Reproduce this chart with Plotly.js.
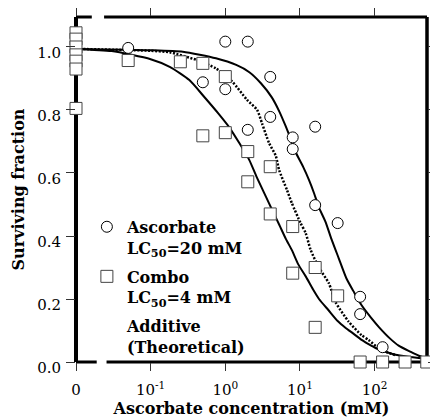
<!DOCTYPE html>
<html>
<head>
<meta charset="utf-8">
<script src="https://cdn.plot.ly/plotly-3.0.1.min.js"></script>
<style>html,body{margin:0;padding:0;background:#fff;}#chart{width:430px;height:418px;}</style>
</head>
<body>
<div id="chart"></div>
<script>
// Concentration 0 is drawn at the broken-axis position of 10^-2
const ZERO_POS = 0.01;

// Ascorbate alone (circles)
const ascConc = [0.05, 0.5, 1, 1, 2, 2, 4, 4, 8, 8, 16, 16, 32, 64, 64, 128];
const ascSurv = [0.997, 0.888, 1.017, 0.866, 1.017, 0.737, 0.905, 0.778, 0.713, 0.676, 0.747, 0.498, 0.441, 0.207, 0.152, 0.047];

// Combo (squares)
const comboConc = [0, 0, 0, 0, 0, 0, 0, 0.05, 0.25, 0.5, 0.5, 1, 1, 2, 2, 4, 4, 8, 8, 16, 16, 32, 64, 128, 256, 500];
const comboSurv = [1.045, 1.025, 1.0, 0.975, 0.955, 0.93, 0.805, 0.957, 0.953, 0.948, 0.718, 0.906, 0.728, 0.668, 0.572, 0.62, 0.47, 0.43, 0.282, 0.3, 0.11, 0.21, 0, 0, 0, 0];

// Fitted curve, ascorbate (LC50 = 20 mM)
const fitAscX = [0, 0.1, 0.27, 0.75, 1.4, 2.1, 3.0, 4.2, 5.3, 6.4, 7.6, 8.8, 11, 13.2, 15.5, 18, 22, 26, 33, 42, 52, 67, 90, 115, 160, 210, 300, 390, 480];
const fitAscY = [0.994, 0.99, 0.985, 0.964, 0.943, 0.92, 0.885, 0.84, 0.795, 0.75, 0.705, 0.665, 0.62, 0.578, 0.535, 0.49, 0.445, 0.395, 0.33, 0.265, 0.225, 0.18, 0.14, 0.11, 0.075, 0.052, 0.033, 0.02, 0.013];

// Fitted curve, combo (LC50 = 4 mM)
const fitComboX = [0, 0.03, 0.1, 0.18, 0.33, 0.52, 0.8, 1.13, 1.54, 2.1, 2.6, 3.5, 4.2, 5.3, 6.5, 7.8, 9.5, 12, 15, 18, 24, 32, 41, 52, 67, 90, 113, 150, 190, 280, 390, 480];
const fitComboY = [0.994, 0.987, 0.961, 0.937, 0.895, 0.842, 0.79, 0.745, 0.695, 0.641, 0.59, 0.525, 0.485, 0.435, 0.39, 0.355, 0.31, 0.271, 0.23, 0.2, 0.165, 0.13, 0.108, 0.09, 0.07, 0.052, 0.04, 0.03, 0.023, 0.017, 0.013, 0.011];

// Additive (theoretical) curve
const addX = [0, 0.1, 0.18, 0.41, 0.75, 1.24, 1.96, 2.67, 3.1, 3.86, 4.74, 5.25, 6.7, 7.8, 10.2, 11.9, 13.9, 17.9, 24.4, 30, 45, 67, 83, 113, 150, 190];
const addY = [0.994, 0.988, 0.983, 0.959, 0.932, 0.89, 0.832, 0.8, 0.758, 0.695, 0.655, 0.61, 0.546, 0.504, 0.441, 0.41, 0.356, 0.3, 0.25, 0.19, 0.128, 0.085, 0.07, 0.044, 0.03, 0.022];

// Axis ticks
const xTickVals = [0, 0.1, 1, 10, 100];
const xTickText = ["0", "10<sup>-1</sup>", "10<sup>0</sup>", "10<sup>1</sup>", "10<sup>2</sup>"];
const yTickVals = [0, 0.2, 0.4, 0.6, 0.8, 1.0];

// Legend labels
const legendAsc = "Ascorbate<br>LC<sub>50</sub>=20 mM";
const legendCombo = "Combo<br>LC<sub>50</sub>=4 mM";
const legendAdd = "Additive<br>(Theoretical)";

const pos = v => (v === 0 ? ZERO_POS : v);
const px = arr => arr.map(pos);

const SERIF = '"DejaVu Serif", "Liberation Serif", serif';

const traces = [
  {x: px(fitAscX), y: fitAscY, mode: 'lines', line: {color: '#000', width: 2, shape: 'spline', smoothing: 0.6}, showlegend: false, hoverinfo: 'skip'},
  {x: px(fitComboX), y: fitComboY, mode: 'lines', line: {color: '#000', width: 2, shape: 'spline', smoothing: 0.6}, showlegend: false, hoverinfo: 'skip'},
  {x: px(addX), y: addY, mode: 'lines', line: {color: '#000', width: 2.5, dash: '2px,1.6px', shape: 'spline', smoothing: 0.6}, showlegend: false, hoverinfo: 'skip'},
  {x: px(ascConc), y: ascSurv, mode: 'markers', name: legendAsc, legendgroup: 'a', cliponaxis: false,
   marker: {symbol: 'circle', size: 11, color: '#fff', line: {color: '#000', width: 1}}},
  {x: px(comboConc), y: comboSurv, mode: 'markers', name: legendCombo, legendgroup: 'b', cliponaxis: false,
   marker: {symbol: 'square', size: 12, color: '#fff', line: {color: '#444', width: 1}}},
  {x: [null], y: [null], mode: 'lines', name: legendAdd, legendgroup: 'c', line: {width: 0, color: 'rgba(0,0,0,0)'}}
];

const xr0 = Math.log10(ZERO_POS);
const layout = {
  width: 430, height: 418,
  margin: {l: 76, r: 3, t: 17, b: 56},
  paper_bgcolor: '#fff', plot_bgcolor: '#fff',
  font: {family: SERIF, color: '#000', size: 15},
  showlegend: true,
  legend: {x: 0.031, y: 0.441, xanchor: 'left', yanchor: 'top', bgcolor: 'rgba(0,0,0,0)',
           traceorder: 'grouped', tracegroupgap: 5,
           font: {family: SERIF, size: 16, weight: 700, color: '#000'}, valign: 'top', borderwidth: 0},
  xaxis: {
    type: 'log', range: [xr0, 2.702], showgrid: false, zeroline: false, showline: false,
    ticks: 'outside', ticklen: 8, tickwidth: 1, tickcolor: '#333', mirror: 'allticks',
    tickvals: px(xTickVals), ticktext: xTickText, tickfont: {family: SERIF, size: 15},
    ticklabelstandoff: 6,
    title: {text: 'Ascorbate concentration (mM)', font: {family: SERIF, size: 16, weight: 700}, standoff: 6}
  },
  yaxis: {
    range: [0, 1.0952], showgrid: false, zeroline: false, showline: false,
    ticks: 'outside', ticklen: 9, tickwidth: 1, tickcolor: '#333', mirror: 'allticks',
    tickvals: yTickVals, tickformat: '.1f', tickfont: {family: SERIF, size: 15},
    ticklabelshift: 6, ticklabelstandoff: 2,
    title: {text: 'Surviving fraction', font: {family: SERIF, size: 16, weight: 700}, standoff: 8}
  },
  shapes: [
    {type: 'line', xref: 'paper', yref: 'paper', x0: 0, x1: 0, y0: 0, y1: 1, line: {color: '#000', width: 4}, layer: 'below'},
    {type: 'line', xref: 'paper', yref: 'paper', x0: 1, x1: 1, y0: 0, y1: 1, line: {color: '#000', width: 3.5}, layer: 'below'},
    {type: 'line', xref: 'paper', yref: 'paper', x0: 0, x1: 0.045, y0: 1, y1: 1, line: {color: '#000', width: 3}, layer: 'below'},
    {type: 'line', xref: 'paper', yref: 'paper', x0: 0.08, x1: 1, y0: 1, y1: 1, line: {color: '#000', width: 3}, layer: 'below'},
    {type: 'line', xref: 'paper', yref: 'paper', x0: 0, x1: 0.059, y0: 0, y1: 0, line: {color: '#000', width: 3}, layer: 'below'},
    {type: 'line', xref: 'paper', yref: 'paper', x0: 0.087, x1: 1, y0: 0, y1: 0, line: {color: '#000', width: 3}, layer: 'below'}
  ]
};

Plotly.newPlot('chart', traces, layout, {displayModeBar: false});
</script>
</body>
</html>
